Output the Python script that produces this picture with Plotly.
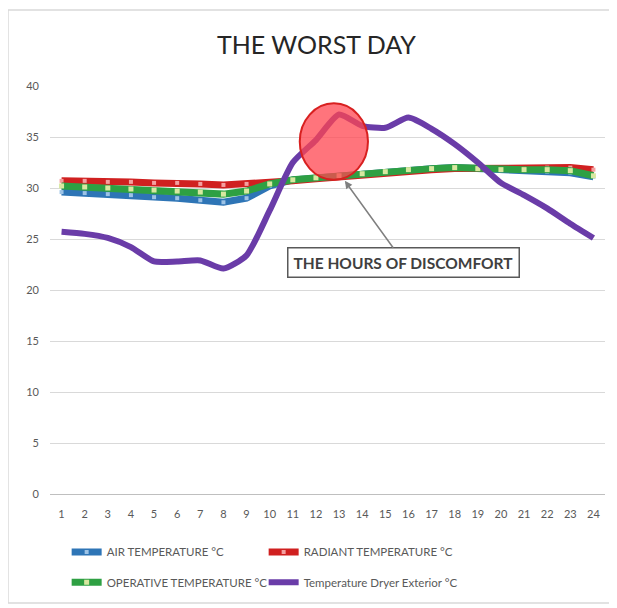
import plotly.graph_objects as go

# Horas del día
horas = list(range(1, 25))

# Valores (°C)
air_temp = [29.6, 29.5, 29.4, 29.3, 29.1, 29.0, 28.8, 28.6, 29.0, 30.2, 30.8, 31.0,
            31.2, 31.4, 31.6, 31.8, 31.9, 32.0, 31.9, 31.8, 31.7, 31.6, 31.5, 31.1]
radiant_temp = [30.7, 30.7, 30.6, 30.6, 30.5, 30.5, 30.4, 30.3, 30.4, 30.5, 30.7, 30.9,
                31.1, 31.3, 31.5, 31.7, 31.8, 31.9, 31.9, 31.9, 31.9, 32.0, 32.0, 31.8]
operative_temp = [30.2, 30.1, 30.0, 29.9, 29.8, 29.7, 29.6, 29.4, 29.7, 30.4, 30.8, 31.0,
                  31.2, 31.4, 31.6, 31.8, 31.9, 32.0, 31.9, 31.8, 31.8, 31.8, 31.7, 31.2]
exterior_temp = [25.7, 25.5, 25.1, 24.2, 22.8, 22.8, 22.9, 22.1, 23.4, 27.8, 32.5, 34.7,
                 37.2, 36.1, 35.9, 36.9, 35.8, 34.3, 32.5, 30.5, 29.3, 28.0, 26.5, 25.1]

series_names = ["AIR TEMPERATURE °C", "RADIANT TEMPERATURE °C",
                "OPERATIVE TEMPERATURE °C", "Temperature Dryer Exterior °C"]

FONT = "Lato, Open Sans, sans-serif"

fig = go.Figure()

# Fila 1 de la leyenda: aire y radiante; fila 2: operativa y exterior
fig.add_trace(go.Scatter(
    x=horas, y=air_temp, name=series_names[0], mode="lines+markers",
    line=dict(color="#2E75B6", width=7),
    marker=dict(symbol="square", size=4, color="#9DC3E6"),
    legend="legend"
))
fig.add_trace(go.Scatter(
    x=horas, y=radiant_temp, name=series_names[1], mode="lines+markers",
    line=dict(color="#D02020", width=7),
    marker=dict(symbol="square", size=4, color="#F4A0A0"),
    legend="legend"
))
fig.add_trace(go.Scatter(
    x=horas, y=operative_temp, name=series_names[2], mode="lines+markers",
    line=dict(color="#2EA043", width=7),
    marker=dict(symbol="square", size=5, color="#D8E8A0"),
    legend="legend2"
))
fig.add_trace(go.Scatter(
    x=horas, y=exterior_temp, name=series_names[3], mode="lines",
    line=dict(color="#6A3CA8", width=6, shape="spline", smoothing=0.6),
    legend="legend2"
))

# Círculo rojo sobre las horas de disconfort
fig.add_shape(
    type="circle", xref="x", yref="y",
    x0=11.3, x1=14.25, y0=30.8, y1=38.3,
    fillcolor="rgba(255,70,80,0.75)",
    line=dict(color="#D82020", width=2)
)

# Borde del área del gráfico
fig.add_shape(
    type="rect", xref="paper", yref="paper",
    x0=-0.0757, x1=1.009, y0=-0.267, y1=1.186,
    line=dict(color="#D9D9D9", width=1.5), fillcolor="rgba(0,0,0,0)"
)

fig.add_annotation(
    x=13.25, y=30.7, xref="x", yref="y",
    ax=15.8, ay=22.7, axref="x", ayref="y",
    text="<b>THE HOURS OF DISCOMFORT</b>",
    showarrow=True, arrowhead=2, arrowsize=1, arrowwidth=1.5, arrowcolor="#7F7F7F",
    font=dict(family=FONT, size=15.5, color="#404040"),
    bordercolor="#595959", borderwidth=1.5, borderpad=5,
    bgcolor="white"
)

legend_style = dict(
    orientation="h", xanchor="left", yanchor="middle",
    entrywidth=152, entrywidthmode="pixels",
    font=dict(family=FONT, size=11.5, color="#595959"),
    itemwidth=30, bgcolor="rgba(0,0,0,0)"
)

fig.update_layout(
    width=617, height=608,
    margin=dict(l=42, r=20, t=78, b=122),
    title=dict(text="THE WORST DAY", x=0.5, xanchor="center",
               y=0.939, yanchor="middle",
               font=dict(family=FONT, size=25, color="#262626")),
    plot_bgcolor="white", paper_bgcolor="white",
    font=dict(family=FONT, size=11, color="#595959"),
    xaxis=dict(
        range=[0.5, 24.5], tickmode="array", tickvals=horas,
        ticktext=[str(h) for h in horas],
        showgrid=False, zeroline=False, showline=False,
        ticklabelstandoff=12,
        tickfont=dict(size=11, color="#595959")
    ),
    yaxis=dict(
        range=[0, 40], dtick=5, showgrid=True, gridcolor="#D9D9D9", gridwidth=1,
        zeroline=True, zerolinecolor="#BFBFBF", zerolinewidth=1,
        showline=False, ticks="", ticklen=0, ticklabelstandoff=10,
        tickfont=dict(size=11, color="#595959")
    ),
    showlegend=True,
    legend=dict(x=0.03, y=-0.142, **legend_style),
    legend2=dict(x=0.03, y=-0.216, **legend_style)
)

fig.write_html("out.html")
